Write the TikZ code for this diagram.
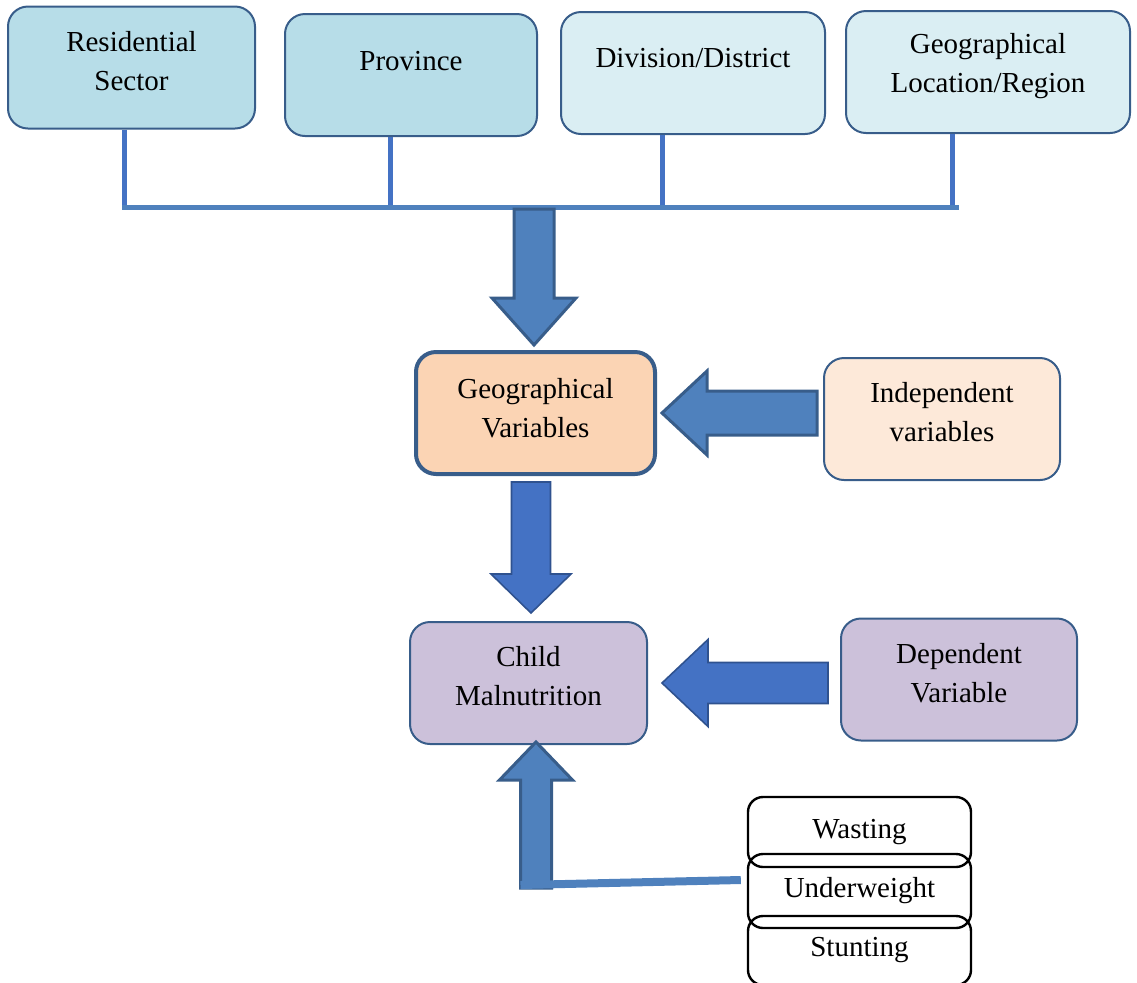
\documentclass[tikz,border=0pt]{standalone}
\usepackage{fontspec}
\setmainfont{Liberation Serif}
\usetikzlibrary{calc}
\definecolor{frameBlue}{HTML}{385D8A}
\definecolor{darkBlue}{HTML}{2F528F}
\definecolor{arrBlue}{HTML}{4F81BD}
\definecolor{arrRoyal}{HTML}{4472C4}
\definecolor{skyFill}{HTML}{B7DDE8}
\definecolor{paleFill}{HTML}{DAEEF3}
\definecolor{peachFill}{HTML}{FBD4B4}
\definecolor{creamFill}{HTML}{FDE9D9}
\definecolor{lilacFill}{HTML}{CCC1DA}
% Block arrow from tail #2 to tip #3: shaft half width #4, head half width #5,
% head length #6. Style in the optional argument.
\newcommand{\blockarrow}[6][]{%
  \coordinate (ba-neck) at ($(#3)!#6!(#2)$);
  \draw[#1] ($(#2)!#4!90:(#3)$) -- ($(ba-neck)!#4!90:(#3)$)
    -- ($(ba-neck)!#5!90:(#3)$) -- (#3) -- ($(ba-neck)!#5!-90:(#3)$)
    -- ($(ba-neck)!#4!-90:(#3)$) -- ($(#2)!#4!-90:(#3)$) -- cycle;}

\begin{document}
\begin{tikzpicture}[x=0.5pt,y=-0.5pt,
  box/.style={draw=frameBlue, line width=1pt, rounded corners=10pt,
              minimum height=61pt, inner sep=0pt},
  txt/.style={font=\fontsize{14.5}{19.5}\selectfont, align=center, inner sep=0pt},
  tier/.style={draw=black, line width=1.2pt, rounded corners=7.5pt, minimum width=111.5pt,
               inner sep=0pt, font=\fontsize{14.5}{19.5}\selectfont},
  drop/.style={draw=arrRoyal, line width=2.5pt},
  bus/.style={draw=arrBlue, line width=2.5pt},
  fat/.style={fill=arrBlue, draw=frameBlue, line width=1.5pt},
  fatB/.style={fill=arrRoyal, draw=darkBlue, line width=0.8pt},
  feed/.style={draw=arrBlue, line width=4pt}]

  \useasboundingbox (0,0) rectangle (1137,982);

  \node[box, fill=skyFill, minimum width=123.5pt,
        label={[txt,yshift=3pt]center:Residential\\Sector}] (res) at (131.5,67.5) {};
  \node[box, fill=skyFill, minimum width=126pt,
        label={[txt,yshift=7pt]center:Province}] (prov) at (411,75) {};
  \node[box, fill=paleFill, minimum width=132pt,
        label={[txt,yshift=7.5pt]center:Division/District}] (dist) at (693,73) {};
  \node[box, fill=paleFill, minimum width=142pt,
        label={[txt,yshift=2.75pt]center:Geographical\\Location/Region}] (reg) at (988,72) {};

  \node[box, fill=peachFill, line width=2pt, minimum width=119.5pt,
        label={[txt,yshift=2.25pt]center:Geographical\\Variables}] (geo) at (535.5,413) {};
  \node[box, fill=creamFill, minimum width=118pt,
        label={[txt,yshift=3.25pt]center:Independent\\variables}] (indep) at (942,419) {};
  \node[box, fill=lilacFill, minimum width=118.5pt,
        label={[txt,yshift=3.25pt]center:Child\\Malnutrition}] (cm) at (528.5,683) {};
  \node[box, fill=lilacFill, minimum width=118pt,
        label={[txt,yshift=3.25pt]center:Dependent\\Variable}] (dep) at (959,679.5) {};

  \node[tier, minimum height=35pt] (wast) at (859.5,832) {Wasting};
  \node[tier, minimum height=37pt] (uwt) at (859.5,891) {Underweight};
  \node[tier, minimum height=34.5pt] (stunt) at (859.5,950.5) {Stunting};

  \coordinate (busL) at (122,207);
  \coordinate (busR) at (959,207);
  \foreach \n/\dx in {res/-7.5,prov/-21,dist/-31,reg/-36}{
    \coordinate (top) at ($(\n.south)+(\dx,0)$);
    \draw[drop] (top) -- ($(top |- busL)+(0,2)$);
  }
  \draw[bus] (busL) -- (busR);

  \coordinate (a1h) at ($(geo.north)+(-1.5,-5)$);
  \coordinate (a1t) at ($(a1h |- busL)+(0,2)$);
  \blockarrow[fat]{a1t}{a1h}{10pt}{21pt}{23.5pt}

  \coordinate (a2h) at ($(geo.east)+(5,0)$);
  \coordinate (a2t) at ($(a2h -| indep.west)+(-6,0)$);
  \blockarrow[fat]{a2t}{a2h}{11pt}{21pt}{22.5pt}

  \coordinate (a3t) at ($(geo.south)+(-4.5,6)$);
  \coordinate (a3h) at ($(a3t |- cm.north)+(0,-8)$);
  \blockarrow[fatB]{a3t}{a3h}{9.75pt}{20pt}{19.5pt}

  \coordinate (a4h) at ($(cm.east)+(14,0)$);
  \coordinate (a4t) at ($(a4h -| dep.west)+(-12,0)$);
  \blockarrow[fatB]{a4t}{a4h}{10.25pt}{21.75pt}{23pt}

  \coordinate (a5h) at ($(cm.south)+(7.5,-3)$);
  \coordinate (a5t) at ($(a5h)+(0,146)$);
  \blockarrow[fat]{a5t}{a5h}{7.75pt}{18.25pt}{19pt}
  \draw[feed] ($(uwt.west)+(-6,-11)$) -- ($(a5t)+(-15.5,-3)$);
\end{tikzpicture}
\end{document}
